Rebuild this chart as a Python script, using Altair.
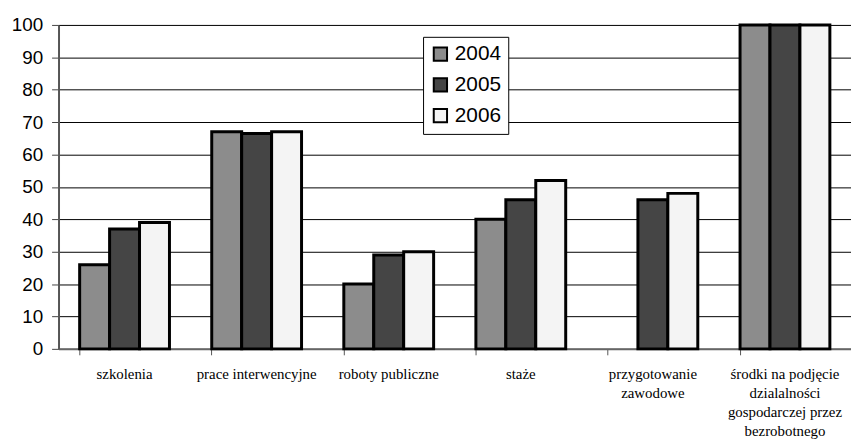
import altair as alt
import pandas as pd

categories = [
    "szkolenia",
    "prace interwencyjne",
    "roboty publiczne",
    "staże",
    "przygotowanie\nzawodowe",
    "środki na podjęcie\ndzialalności\ngospodarczej przez\nbezrobotnego",
]
years = ["2004", "2005", "2006"]
v2004 = [26, 67, 20, 40, None, 100]
v2005 = [37, 66.5, 29, 46, 46, 100]
v2006 = [39, 67, 30, 52, 48, 100]
colors = ["#8c8c8c", "#454545", "#f4f4f4"]

rows = []
for yr, vals in zip(years, [v2004, v2005, v2006]):
    for c, v in zip(categories, vals):
        if v is not None:
            rows.append({"kategoria": c, "rok": yr, "wartosc": v})
df = pd.DataFrame(rows)

serif = "Times New Roman, Liberation Serif, serif"
sans = "Liberation Sans"

bars = alt.Chart(df).mark_bar(stroke="black", strokeWidth=3).encode(
    x=alt.X(
        "kategoria:N",
        sort=categories,
        title=None,
        scale=alt.Scale(paddingInner=0.32, paddingOuter=0.16),
        axis=alt.Axis(
            labelAngle=0,
            labelFont=serif,
            labelFontSize=15,
            labelColor="black",
            labelLineHeight=19,
            labelPadding=12,
            labelExpr="split(datum.label, '\\n')",
            bandPosition=0,
            ticks=True,
            tickSize=6,
            tickColor="#555555",
            domainColor="#666666",
            domainWidth=2,
            grid=False,
            labelLimit=200,
        ),
    ),
    xOffset=alt.XOffset("rok:N", sort=years),
    y=alt.Y(
        "wartosc:Q",
        title=None,
        scale=alt.Scale(domain=[0, 100], nice=False),
        axis=alt.Axis(
            values=list(range(0, 101, 10)),
            labelPadding=9,
            tickSize=7,
            tickColor="#444444",
            domainColor="#555555",
            domainWidth=2,
            grid=True,
            gridColor="black",
            gridWidth=1,
        ),
    ),
    fill=alt.Fill(
        "rok:N",
        sort=years,
        scale=alt.Scale(domain=years, range=colors),
        legend=alt.Legend(
            title=None,
            orient="none",
            legendX=368,
            legendY=12,
            symbolType="square",
            symbolSize=180,
            symbolStrokeColor="black",
            symbolStrokeWidth=2,
            labelFont=sans,
            labelFontSize=21,
            labelColor="black",
            rowPadding=8,
            padding=7,
            strokeColor="black",
            fillColor="white",
            labelOffset=4,
        ),
    ),
)

chart = (
    bars.properties(
        width=800,
        height=327,
        autosize=alt.AutoSizeParams(type="none"),
        padding={"left": 51, "top": 15, "right": 0, "bottom": 100},
    )
    .configure_view(stroke=None)
    .configure(background="white")
    .configure_axisY(labelFont=sans, labelFontSize=19, labelColor="black")
)

chart.save("out.html", embed_options={"renderer": "svg", "actions": False})
